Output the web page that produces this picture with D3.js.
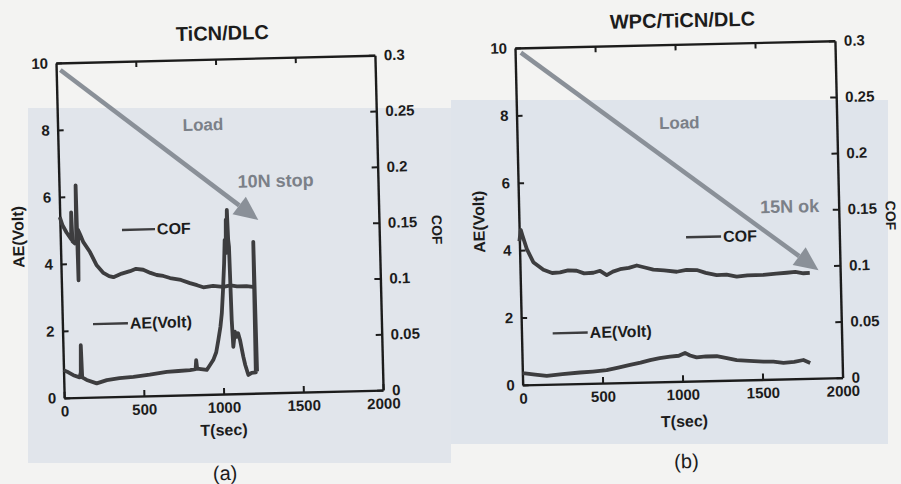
<!DOCTYPE html>
<html>
<head>
<meta charset="utf-8">
<script src="https://cdn.jsdelivr.net/npm/d3@7"></script>
<style>
body { margin: 0; background: #f2f3f2; }
svg { display: block; font-family: "Liberation Sans", Arial, sans-serif; }
</style>
</head>
<body>
<div id="main"></div>
<script>
// axis ticks
var timeTicks = [0, 500, 1000, 1500, 2000];
var aeTicks = [0, 2, 4, 6, 8, 10];
var cofTicks = [0, 0.05, 0.1, 0.15, 0.2, 0.25, 0.3];
var cofTickLabels = ["0", "0.05", "0.1", "0.15", "0.2", "0.25", "0.3"];

// (a) TiCN/DLC
var aCofTime = [0, 15, 40, 68, 72, 76, 90, 100, 104, 108, 113, 125, 144, 184, 224, 265, 300, 327, 380, 432, 470, 515, 560, 599, 640, 682, 750, 806, 850, 889, 950, 1014, 1060, 1100, 1160, 1213];
var aCof = [0.162, 0.155, 0.148, 0.142, 0.166, 0.140, 0.138, 0.140, 0.190, 0.105, 0.150, 0.146, 0.139, 0.130, 0.118, 0.111, 0.108, 0.107, 0.110, 0.112, 0.114, 0.113, 0.110, 0.108, 0.107, 0.105, 0.103, 0.100, 0.098, 0.096, 0.097, 0.096, 0.097, 0.096, 0.096, 0.095];
var aAeTime = [0, 30, 61, 100, 108, 112, 116, 144, 206, 270, 350, 437, 540, 647, 720, 793, 828, 833, 838, 898, 940, 960, 975, 990, 1001, 1012, 1023, 1030, 1035, 1040, 1044, 1048, 1052, 1056, 1062, 1068, 1080, 1091, 1100, 1111, 1120, 1129, 1140, 1158, 1179, 1205, 1209, 1213];
var aAe = [0.83, 0.76, 0.67, 0.60, 0.75, 1.56, 0.60, 0.52, 0.41, 0.50, 0.55, 0.58, 0.63, 0.70, 0.72, 0.74, 0.76, 1.03, 0.78, 0.73, 1.02, 1.25, 1.61, 2.00, 2.41, 3.10, 3.90, 4.60, 4.20, 5.20, 4.80, 5.49, 4.60, 4.39, 2.20, 1.40, 1.85, 1.70, 1.80, 1.60, 1.35, 1.10, 0.85, 0.55, 0.61, 0.62, 4.52, 0.65];

// (b) WPC/TiCN/DLC
var bCofTime = [0, 10, 20, 45, 84, 146, 200, 250, 300, 354, 400, 458, 500, 541, 580, 625, 680, 730, 780, 833, 900, 979, 1040, 1104, 1160, 1228, 1290, 1353, 1420, 1520, 1600, 1666, 1720, 1770, 1810];
var bCof = [0.128, 0.138, 0.133, 0.121, 0.109, 0.102, 0.099, 0.0994, 0.101, 0.1005, 0.098, 0.0984, 0.100, 0.096, 0.099, 0.101, 0.102, 0.104, 0.102, 0.100, 0.099, 0.0976, 0.099, 0.0987, 0.096, 0.0938, 0.094, 0.092, 0.093, 0.093, 0.094, 0.0945, 0.095, 0.0937, 0.094];
var bAeTime = [0, 16, 80, 152, 250, 360, 440, 527, 600, 674, 740, 800, 860, 925, 980, 1019, 1050, 1091, 1150, 1217, 1280, 1341, 1420, 1508, 1570, 1633, 1700, 1758, 1800];
var bAe = [0.34, 0.34, 0.30, 0.25, 0.29, 0.33, 0.35, 0.38, 0.45, 0.52, 0.58, 0.65, 0.70, 0.74, 0.76, 0.84, 0.76, 0.70, 0.72, 0.72, 0.66, 0.59, 0.56, 0.53, 0.52, 0.48, 0.50, 0.55, 0.46];

var W = 901, H = 484;

var svg = d3.select("#main")
    .append("svg")
    .attr("width", W)
    .attr("height", H);

// scanned page background
svg.append("rect").attr("width", W).attr("height", H).attr("fill", "#f3f3f2");
svg.append("rect").attr("x", 28).attr("y", 108).attr("width", 423).attr("height", 355).attr("fill", "#e1e5eb");
svg.append("rect").attr("x", 451).attr("y", 100).attr("width", 437).attr("height", 344).attr("fill", "#dfe4eb");

var panels = [
    {
	ox: 56, oy: 63, angle: -1.4, w: 319, h: 335,
	title: "TiCN/DLC", tag: "(a)",
	cofT: aCofTime, cof: aCof, aeT: aAeTime, ae: aAe,
	arrow: [[26, 9.79], [1244, 5.17]],
	load: [912, 8.04], note: "10N stop", noteAt: [1358, 6.32],
	cofKey: [388, 595, 4.97], aeKey: [192, 411, 2.18],
	yLab: [-42, 173], cLab: [377, 176], xLab: [159, 371], titleAt: [167, -26], tagAt: [159, 414]
    },
    {
	ox: 515, oy: 48, angle: -1.3, w: 320, h: 337,
	title: "WPC/TiCN/DLC", tag: "(b)",
	cofT: bCofTime, cof: bCof, aeT: bAeTime, ae: bAe,
	arrow: [[36, 9.86], [1865, 3.2]],
	load: [1016, 7.66], note: "15N ok", noteAt: [1694, 5.11],
	cofKey: [1042, 1261, 4.27], aeKey: [195, 414, 1.51],
	yLab: [-40, 173], cLab: [372, 176], xLab: [161, 377], titleAt: [168, -24], tagAt: [162, 417]
    }
];

panels.forEach(drawPanel);

function drawPanel(p) {
    var g = svg.append("g")
	.attr("transform", "translate(" + p.ox + "," + p.oy + ") rotate(" + p.angle + ")");

    var x = d3.scaleLinear().domain([0, 2000]).range([0, p.w]);
    var yL = d3.scaleLinear().domain([0, 10]).range([p.h, 0]);
    var yR = d3.scaleLinear().domain([0, 0.3]).range([p.h, 0]);

    // axes, ticks point inward
    var bottom = g.append("g").attr("transform", "translate(0," + p.h + ")")
	.call(d3.axisBottom(x).tickValues(timeTicks).tickSizeInner(-6).tickSizeOuter(0).tickPadding(8)
	      .tickFormat(d3.format("d")));
    var top = g.append("g")
	.call(d3.axisTop(x).tickValues([500, 1000, 1500]).tickSizeInner(-6).tickSizeOuter(0).tickFormat(""));
    var left = g.append("g")
	.call(d3.axisLeft(yL).tickValues(aeTicks).tickSizeInner(-6).tickSizeOuter(0).tickPadding(8)
	      .tickFormat(d3.format("d")));
    var right = g.append("g").attr("transform", "translate(" + p.w + ",0)")
	.call(d3.axisRight(yR).tickValues(cofTicks).tickSizeInner(-6).tickSizeOuter(0).tickPadding(9)
	      .tickFormat(function(d, i) { return cofTickLabels[i]; }));

    [bottom, top, left, right].forEach(function(a) {
	a.select(".domain").attr("stroke", "#1c1c1c").attr("stroke-width", 2.4);
	a.selectAll(".tick line").attr("stroke", "#1c1c1c").attr("stroke-width", 2);
	a.selectAll(".tick text")
	    .attr("fill", "#1c1c1c")
	    .attr("font-size", 15)
	    .attr("font-weight", "bold");
    });

    // curves
    var cofLine = d3.line()
	.x(function(d) { return x(d[0]); })
	.y(function(d) { return yR(d[1]); });
    var aeLine = d3.line()
	.x(function(d) { return x(d[0]); })
	.y(function(d) { return yL(d[1]); });

    g.append("path")
	.attr("d", cofLine(d3.zip(p.cofT, p.cof)))
	.attr("fill", "none")
	.attr("stroke", "#3d3d3f")
	.attr("stroke-width", 3.8)
	.attr("stroke-linejoin", "round");
    g.append("path")
	.attr("d", aeLine(d3.zip(p.aeT, p.ae)))
	.attr("fill", "none")
	.attr("stroke", "#3d3d3f")
	.attr("stroke-width", 3.8)
	.attr("stroke-linejoin", "round");

    // load arrow
    var x0 = x(p.arrow[0][0]), y0 = yL(p.arrow[0][1]);
    var x1 = x(p.arrow[1][0]), y1 = yL(p.arrow[1][1]);
    var len = Math.hypot(x1 - x0, y1 - y0);
    var ux = (x1 - x0) / len, uy = (y1 - y0) / len;
    var hl = 24, hw = 11;
    var bx = x1 - ux * hl, by = y1 - uy * hl;
    g.append("line")
	.attr("x1", x0).attr("y1", y0).attr("x2", bx).attr("y2", by)
	.attr("stroke", "#8a9098").attr("stroke-width", 4.5);
    g.append("path")
	.attr("d", "M" + x1 + "," + y1 + "L" + (bx - uy * hw) + "," + (by + ux * hw) + "L" + (bx + uy * hw) + "," + (by - ux * hw) + "Z")
	.attr("fill", "#8a9098");

    g.append("text")
	.attr("x", x(p.load[0])).attr("y", yL(p.load[1]))
	.attr("text-anchor", "middle").attr("dominant-baseline", "central")
	.attr("font-size", 17).attr("font-weight", "bold").attr("fill", "#7b8088")
	.text("Load");
    g.append("text")
	.attr("x", x(p.noteAt[0])).attr("y", yL(p.noteAt[1]))
	.attr("text-anchor", "middle").attr("dominant-baseline", "central")
	.attr("font-size", 18).attr("font-weight", "bold").attr("fill", "#7b8088")
	.text(p.note);

    // legend keys
    [[p.cofKey, "COF"], [p.aeKey, "AE(Volt)"]].forEach(function(k) {
	var key = k[0];
	g.append("line")
	    .attr("x1", x(key[0])).attr("x2", x(key[1]))
	    .attr("y1", yL(key[2])).attr("y2", yL(key[2]))
	    .attr("stroke", "#3d3d3f").attr("stroke-width", 2.4);
	g.append("text")
	    .attr("x", x(key[1]) + 2).attr("y", yL(key[2]))
	    .attr("dominant-baseline", "central")
	    .attr("font-size", 16).attr("font-weight", "bold").attr("fill", "#1c1c1c")
	    .text(k[1]);
    });

    // axis titles
    g.append("text")
	.attr("transform", "translate(" + p.yLab[0] + "," + p.yLab[1] + ") rotate(-90)")
	.attr("text-anchor", "middle").attr("dominant-baseline", "central")
	.attr("font-size", 16).attr("font-weight", "bold").attr("fill", "#1c1c1c")
	.text("AE(Volt)");
    g.append("text")
	.attr("transform", "translate(" + p.cLab[0] + "," + p.cLab[1] + ") rotate(90)")
	.attr("text-anchor", "middle").attr("dominant-baseline", "central")
	.attr("font-size", 14).attr("font-weight", "bold").attr("fill", "#1c1c1c")
	.text("COF");
    g.append("text")
	.attr("x", p.xLab[0]).attr("y", p.xLab[1])
	.attr("text-anchor", "middle").attr("dominant-baseline", "central")
	.attr("font-size", 16).attr("font-weight", "bold").attr("fill", "#1c1c1c")
	.text("T(sec)");
    g.append("text")
	.attr("x", p.titleAt[0]).attr("y", p.titleAt[1])
	.attr("text-anchor", "middle").attr("dominant-baseline", "central")
	.attr("font-size", 20).attr("font-weight", "bold").attr("fill", "#1c1c1c")
	.text(p.title);
    g.append("text")
	.attr("x", p.tagAt[0]).attr("y", p.tagAt[1])
	.attr("text-anchor", "middle").attr("dominant-baseline", "central")
	.attr("font-size", 20).attr("fill", "#1c1c1c")
	.text(p.tag);
}
</script>
</body>
</html>
